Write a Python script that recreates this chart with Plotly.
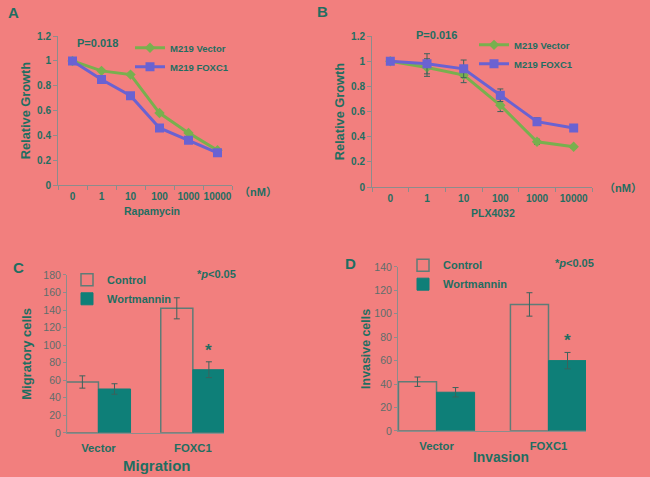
import plotly.graph_objects as go

# ---------------- data ----------------
doses = ["0", "1", "10", "100", "1000", "10000"]

a_vector = [1.0, 0.92, 0.89, 0.58, 0.42, 0.28]
a_foxc1 = [1.0, 0.85, 0.72, 0.46, 0.36, 0.26]

b_vector = [1.0, 0.95, 0.89, 0.65, 0.36, 0.32]
b_vector_err = [0.01, 0.07, 0.06, 0.05, 0.02, 0.01]
b_foxc1 = [1.0, 0.98, 0.94, 0.73, 0.52, 0.47]
b_foxc1_err = [0.01, 0.08, 0.07, 0.05, 0.03, 0.01]

groups = ["Vector", "FOXC1"]
c_control = [58, 142]
c_control_err = [7, 12]
c_wort = [50, 72]
c_wort_err = [6, 9]

d_control = [42, 108]
d_control_err = [4, 10]
d_wort = [33, 60]
d_wort_err = [4, 7]

# ---------------- style ----------------
BG = "#F27F7E"
TXT = "#1F6E61"
AXC = "#8C8C8C"
GREEN = "#78B04E"
BLUE = "#6A62D2"
TEAL = "#0E7F78"
OUTL = "#5E7C77"
ERR = "#3C625C"
FONT = "Liberation Sans, Arial, Noto Sans CJK SC, sans-serif"
W, H = 650, 477


def Y(yref):
    # vertical position in the page for a target position in the picture
    return (yref - 5.85) / 0.9755


def dom_x(a, b):
    return [a / W, b / W]


def dom_y(top, bottom):
    return [1 - Y(bottom) / H, 1 - Y(top) / H]


fig = go.Figure()

# Panel A
fig.add_trace(go.Scatter(x=doses, y=a_vector, name="M219 Vector", mode="lines+markers",
                         line=dict(color=GREEN, width=3), marker=dict(symbol="diamond", size=8, color=GREEN),
                         xaxis="x", yaxis="y", legend="legend"))
fig.add_trace(go.Scatter(x=doses, y=a_foxc1, name="M219 FOXC1", mode="lines+markers",
                         line=dict(color=BLUE, width=3), marker=dict(symbol="square", size=9, color=BLUE),
                         xaxis="x", yaxis="y", legend="legend"))

# Panel B
fig.add_trace(go.Scatter(x=doses, y=b_vector, name="M219 Vector", mode="lines+markers",
                         line=dict(color=GREEN, width=3), marker=dict(symbol="diamond", size=8, color=GREEN),
                         error_y=dict(type="data", array=b_vector_err, color=ERR, thickness=1, width=3),
                         xaxis="x2", yaxis="y2", legend="legend2"))
fig.add_trace(go.Scatter(x=doses, y=b_foxc1, name="M219 FOXC1", mode="lines+markers",
                         line=dict(color=BLUE, width=3), marker=dict(symbol="square", size=9, color=BLUE),
                         error_y=dict(type="data", array=b_foxc1_err, color=ERR, thickness=1, width=3),
                         xaxis="x2", yaxis="y2", legend="legend2"))

# Panel C
fig.add_trace(go.Bar(x=groups, y=c_control, name="Control",
                     marker=dict(color="rgba(0,0,0,0)", line=dict(color=OUTL, width=1.5)),
                     error_y=dict(type="data", array=c_control_err, color=ERR, thickness=1, width=3),
                     xaxis="x3", yaxis="y3", legend="legend3", offsetgroup="c1"))
fig.add_trace(go.Bar(x=groups, y=c_wort, name="Wortmannin",
                     marker=dict(color=TEAL, line=dict(color=TEAL, width=1)),
                     error_y=dict(type="data", array=c_wort_err, color=ERR, thickness=1, width=3),
                     xaxis="x3", yaxis="y3", legend="legend3", offsetgroup="c2"))

# Panel D
fig.add_trace(go.Bar(x=groups, y=d_control, name="Control",
                     marker=dict(color="rgba(0,0,0,0)", line=dict(color=OUTL, width=1.5)),
                     error_y=dict(type="data", array=d_control_err, color=ERR, thickness=1, width=3),
                     xaxis="x4", yaxis="y4", legend="legend4", offsetgroup="d1"))
fig.add_trace(go.Bar(x=groups, y=d_wort, name="Wortmannin",
                     marker=dict(color=TEAL, line=dict(color=TEAL, width=1)),
                     error_y=dict(type="data", array=d_wort_err, color=ERR, thickness=1, width=3),
                     xaxis="x4", yaxis="y4", legend="legend4", offsetgroup="d2"))

tickfont_b = dict(family=FONT, size=10, color=TXT, weight="bold")
tickfont_n = dict(family=FONT, size=10.5, color="#5E6E6B")


def line_xaxis(dom, anchor):
    return dict(domain=dom, anchor=anchor, type="category", range=[-0.5, 5.5],
                showline=True, linecolor=AXC, linewidth=1, ticks="outside", ticklen=4,
                tickcolor=AXC, tickson="boundaries", showgrid=False, zeroline=False,
                tickfont=tickfont_b, tickangle=0, ticklabelstandoff=2)


def line_yaxis(dom, anchor):
    return dict(domain=dom, anchor=anchor, range=[0, 1.2], dtick=0.2,
                showline=True, linecolor=AXC, linewidth=1, ticks="outside", ticklen=4,
                tickcolor=AXC, showgrid=False, zeroline=False, tickfont=tickfont_b,
                tickformat="~g",
                title=dict(text="Relative Growth", font=dict(family=FONT, size=12.8, color=TXT, weight="bold"),
                           standoff=3))


def bar_xaxis(dom, rng, anchor):
    return dict(domain=dom, anchor=anchor, type="category", range=rng,
                showline=True, linecolor=AXC, linewidth=1, ticks="", showgrid=False, zeroline=False,
                tickfont=dict(family=FONT, size=11.3, color=TXT, weight="bold"), ticklabelstandoff=5)


def bar_yaxis(dom, rng, dt, title, anchor, size, standoff):
    return dict(domain=dom, anchor=anchor, range=rng, dtick=dt,
                showline=True, linecolor=AXC, linewidth=1, ticks="outside", ticklen=3,
                tickcolor=AXC, showgrid=False, zeroline=False, tickfont=tickfont_n,
                title=dict(text=title, font=dict(family=FONT, size=size, color=TXT, weight="bold"),
                           standoff=standoff))


def legend_box(x, y, size):
    return dict(x=x, y=y, xanchor="left", yanchor="top", bgcolor="rgba(0,0,0,0)",
                font=dict(family=FONT, size=size, color=TXT, weight="bold"),
                tracegroupgap=0, itemwidth=30)


fig.update_layout(
    width=W, height=H, paper_bgcolor=BG, plot_bgcolor=BG,
    margin=dict(l=0, r=0, t=0, b=0),
    barmode="group", bargap=0.32, bargroupgap=0,
    xaxis=line_xaxis(dom_x(58, 232), "y"),
    yaxis=line_yaxis(dom_y(36, 185), "x"),
    xaxis2=line_xaxis(dom_x(372, 592), "y2"),
    yaxis2=line_yaxis(dom_y(36, 187), "x2"),
    xaxis3=bar_xaxis(dom_x(67, 224), [-0.333, 1.33], "y3"),
    yaxis3=bar_yaxis(dom_y(275, 433), [0, 180], 20, "Migratory cells", "x3", 13, 8),
    xaxis4=bar_xaxis(dom_x(398, 586), [-0.344, 1.335], "y4"),
    yaxis4=bar_yaxis(dom_y(267, 431), [0, 140], 20, "Invasive cells", "x4", 12.4, 1),
    legend=legend_box(130 / W, 1 - 28 / H, 9.5),
    legend2=legend_box(474 / W, 1 - 25 / H, 9.5),
    legend3=legend_box(67 / W, 1 - 266 / H, 11),
    legend4=legend_box(403 / W, 1 - 251 / H, 11),
)

ann_font = dict(family=FONT, color=TXT, weight="bold")


def pa(text, x, y, size):
    return dict(text=text, x=x / W, y=1 - Y(y) / H, xref="paper", yref="paper",
                xanchor="center", yanchor="middle", showarrow=False, font=dict(size=size, **ann_font))


anns = [
    pa("A", 13, 12, 15),
    pa("B", 322, 11, 15),
    pa("C", 18, 268, 15),
    pa("D", 350, 264, 15),
    pa("P=0.018", 97, 43, 11),
    pa("P=0.016", 436, 35, 11),
    pa("（nM）", 258, 192, 11),
    pa("（nM）", 623, 188, 11),
    pa("*<i>p</i>&lt;0.05", 216, 274, 11),
    pa("*<i>p</i>&lt;0.05", 574, 263, 11),
    # axis titles
    pa("Rapamycin", 152, 211, 10.5),
    pa("PLX4032", 493, 213, 10.5),
    pa("Migration", 157, 466, 15),
    pa("Invasion", 501, 458, 13.8),
]

# significance stars above the Wortmannin FOXC1 bars
anns.append(dict(text="*", xref="x3", yref="y3", x=1.17, y=c_wort[1] + c_wort_err[1],
                 yanchor="bottom", showarrow=False, font=dict(size=17, **ann_font)))
anns.append(dict(text="*", xref="x4", yref="y4", x=1.17, y=d_wort[1] + d_wort_err[1],
                 yanchor="bottom", showarrow=False, font=dict(size=17, **ann_font)))
fig.update_layout(annotations=anns)

post = (
    "var s=document.createElement('style');"
    "s.textContent='html,body{margin:0!important;padding:0!important;overflow:hidden!important;"
    "background:%s;}';"
    "document.head.appendChild(s);"
) % BG

fig.write_html("out.html", config={"displayModeBar": False}, post_script=post)
